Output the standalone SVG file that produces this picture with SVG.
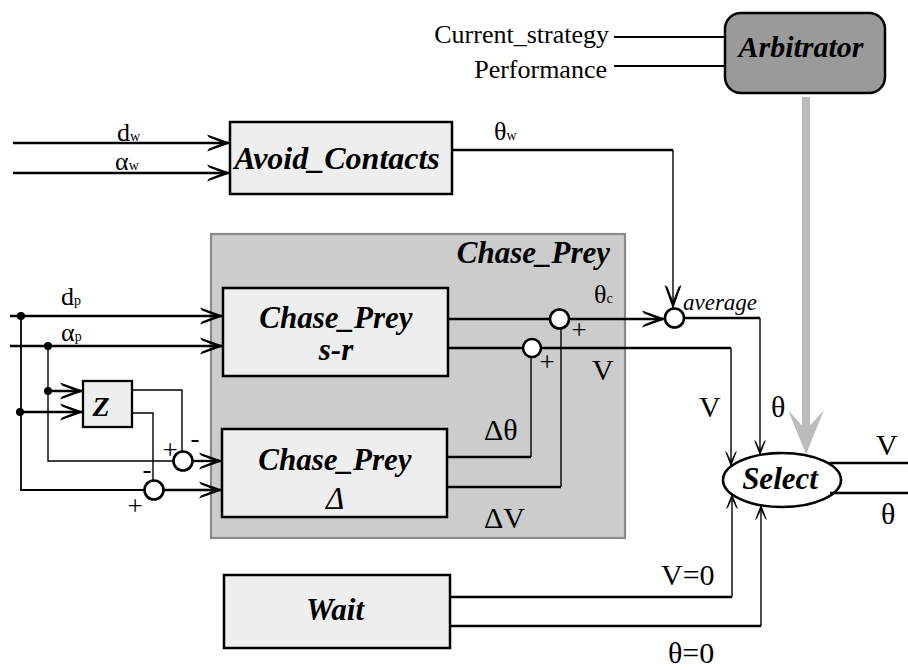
<svg xmlns="http://www.w3.org/2000/svg" width="908" height="670" viewBox="0 0 908 670">
<style>
  text{font-family:"Liberation Serif","Times New Roman",Times,"DejaVu Serif",serif;fill:#000}
  .box{fill:#eeeeee;stroke:#000;stroke-width:2.5}
  .bl{font-weight:bold;font-style:italic;font-size:31px;text-anchor:middle}
  .lab{font-size:26px}
  .big{font-size:30px}
  .sub{font-size:14px}
  .reg{font-size:26px;text-anchor:end}
  .sign{font-size:27px;text-anchor:middle}
  .thick{fill:none;stroke:#000;stroke-width:2.3}
  .thin{fill:none;stroke:#000;stroke-width:1.4}
  .sum{fill:#fff;stroke:#000;stroke-width:2.6}
  .dot{fill:#000}
</style>
<defs>
  <marker id="a" viewBox="-24 -10 26 20" refX="0" refY="0" markerWidth="26" markerHeight="20" orient="auto" markerUnits="userSpaceOnUse">
    <path d="M1,0 L-23,-8.5 L-21,-5.5 L-7,0 L-21,5.5 L-23,8.5 Z" fill="#000"/>
  </marker>
  <marker id="s" viewBox="-16 -7 17 14" refX="0" refY="0" markerWidth="17" markerHeight="14" orient="auto" markerUnits="userSpaceOnUse">
    <path d="M0.5,0 L-15,-6 L-13.5,-4 L-5,0 L-13.5,4 L-15,6 Z" fill="#000"/>
  </marker>
</defs>
<rect width="908" height="670" fill="#fff"/>

<g id="node-chase-prey">
  <rect x="211" y="234" width="414" height="304" fill="#cccccc" stroke="#8a8a8a" stroke-width="2.2"/>
  <text class="bl" x="610" y="263" style="text-anchor:end">Chase_Prey</text>
</g>

<g id="node-arbitrator">
  <rect x="725" y="13" width="160" height="80" rx="16" fill="#9a9a9a" stroke="#000" stroke-width="2.5"/>
  <text class="bl" x="801" y="57" style="font-size:30px">Arbitrator</text>
</g>

<g id="node-avoid-contacts">
  <rect class="box" x="230" y="122" width="222" height="72"/>
  <text class="bl" x="337" y="169" style="font-size:32px">Avoid_Contacts</text>
</g>

<g id="node-chase-prey-sr">
  <rect class="box" x="223" y="288" width="225" height="88"/>
  <text class="bl" x="336" y="328">Chase_Prey</text>
  <text class="bl" x="336" y="360">s-r</text>
</g>

<g id="node-chase-prey-delta">
  <rect class="box" x="222" y="429" width="225" height="88"/>
  <text class="bl" x="335" y="470">Chase_Prey</text>
  <text class="bl" x="335" y="509" style="font-weight:normal">Δ</text>
</g>

<g id="node-z">
  <rect x="83" y="381" width="49" height="46" fill="#eeeeee" stroke="#000" stroke-width="2.3"/>
  <text class="bl" x="101" y="416" style="font-size:28px">Z</text>
</g>

<g id="node-wait">
  <rect class="box" x="224" y="575" width="226" height="73"/>
  <text class="bl" x="335" y="620">Wait</text>
</g>

<g id="node-select">
  <ellipse cx="782" cy="480" rx="59" ry="27" fill="#fff" stroke="#000" stroke-width="2.6"/>
  <text class="bl" x="780" y="489">Select</text>
</g>

<g id="connectors">
  <line class="thin" x1="614" y1="37" x2="725" y2="37" style="stroke-width:1.8"/>
  <line class="thin" x1="614" y1="66" x2="725" y2="66" style="stroke-width:1.8"/>
  <line x1="806" y1="97" x2="806" y2="438" stroke="#bbbbbb" stroke-width="8"/>
  <path d="M806,454 L788,410 L806,430 L824,410 Z" fill="#bbbbbb"/>

  <line class="thick" x1="13" y1="143" x2="230" y2="143" marker-end="url(#a)"/>
  <line class="thick" x1="13" y1="173" x2="230" y2="173" marker-end="url(#a)"/>
  <polyline class="thick" points="452,150 673,150"/>
  <line class="thin" x1="673" y1="150" x2="673" y2="308" marker-end="url(#a)"/>

  <line class="thick" x1="10" y1="316" x2="223" y2="316" marker-end="url(#a)"/>
  <line class="thick" x1="10" y1="346" x2="223" y2="346" marker-end="url(#a)"/>
  <polyline class="thin" points="21,316 21,490 144,490" style="stroke-width:1.8"/>
  <polyline class="thin" points="48,346 48,461 173,461"/>
  <line class="thick" x1="48" y1="391" x2="83" y2="391" marker-end="url(#a)"/>
  <line class="thick" x1="21" y1="412" x2="83" y2="412" marker-end="url(#a)"/>
  <polyline class="thin" points="132,390 182,390 182,451"/>
  <polyline class="thin" points="132,413 153,413 153,480"/>
  <line class="thick" x1="193" y1="461" x2="222" y2="461" marker-end="url(#a)"/>
  <line class="thick" x1="164" y1="490" x2="222" y2="490" marker-end="url(#a)"/>

  <line class="thick" x1="448" y1="319" x2="550" y2="319"/>
  <line class="thick" x1="569" y1="319" x2="665" y2="319" marker-end="url(#a)"/>
  <line class="thick" x1="448" y1="348" x2="523" y2="348"/>
  <polyline class="thick" points="541,348 731,348"/>
  <line class="thin" x1="731" y1="348" x2="731" y2="466" marker-end="url(#s)"/>
  <line class="thick" x1="684" y1="318" x2="760" y2="318"/>
  <line class="thin" x1="760" y1="318" x2="760" y2="455" marker-end="url(#s)"/>

  <polyline class="thick" points="447,457 531,457"/>
  <line class="thin" x1="531" y1="457" x2="531" y2="357"/>
  <polyline class="thick" points="447,487 561,487"/>
  <line class="thin" x1="561" y1="487" x2="561" y2="328"/>

  <polyline class="thick" points="450,597 732,597"/>
  <line class="thin" x1="732" y1="597" x2="732" y2="494" marker-end="url(#s)"/>
  <polyline class="thick" points="450,626 761,626"/>
  <line class="thin" x1="761" y1="626" x2="761" y2="505" marker-end="url(#s)"/>

  <line class="thick" x1="829" y1="463" x2="908" y2="463"/>
  <line class="thick" x1="830" y1="493" x2="908" y2="493"/>
</g>

<g id="junctions">
  <circle class="dot" cx="21" cy="316" r="4"/>
  <circle class="dot" cx="48" cy="346" r="4"/>
  <circle class="dot" cx="48" cy="391" r="4"/>
  <circle class="dot" cx="20" cy="412" r="4"/>
</g>
<g id="node-sum-z1"><circle class="sum" cx="183" cy="461" r="9.5"/></g>
<g id="node-sum-z2"><circle class="sum" cx="154" cy="490" r="9.5"/></g>
<g id="node-sum-theta"><circle class="sum" cx="559.5" cy="319" r="9.5"/></g>
<g id="node-sum-v"><circle class="sum" cx="532" cy="348" r="9"/></g>
<g id="node-average"><circle class="sum" cx="674.5" cy="318" r="9.5"/></g>

<g id="labels">
  <text class="reg" x="609" y="43">Current_strategy</text>
  <text class="reg" x="607" y="78">Performance</text>

  <text class="lab" x="117" y="141">d<tspan class="sub">w</tspan></text>
  <text class="lab" x="115" y="170">α<tspan class="sub">w</tspan></text>
  <text class="lab" x="494" y="140">θ<tspan class="sub">w</tspan></text>

  <text class="lab" x="61" y="305">d<tspan class="sub">p</tspan></text>
  <text class="lab" x="61" y="341">α<tspan class="sub">p</tspan></text>
  <text class="lab" x="594" y="303">θ<tspan class="sub">c</tspan></text>

  <text x="683" y="310" style="font-style:italic;font-size:23px">average</text>

  <text class="sign" x="170" y="459">+</text>
  <text class="sign" x="195" y="447">-</text>
  <text class="sign" x="147" y="478">-</text>
  <text class="sign" x="135" y="515">+</text>
  <text class="sign" x="579" y="339">+</text>
  <text class="sign" x="547" y="371">+</text>

  <text class="big" x="592" y="380">V</text>
  <text class="big" x="699" y="417">V</text>
  <text class="big" x="771" y="417">θ</text>
  <text class="big" x="484" y="440">Δθ</text>
  <text class="big" x="484" y="528">ΔV</text>
  <text class="big" x="876" y="455">V</text>
  <text class="big" x="881" y="524">θ</text>
  <text class="big" x="661" y="585">V=0</text>
  <text class="big" x="668" y="663">θ=0</text>
</g>
</svg>
